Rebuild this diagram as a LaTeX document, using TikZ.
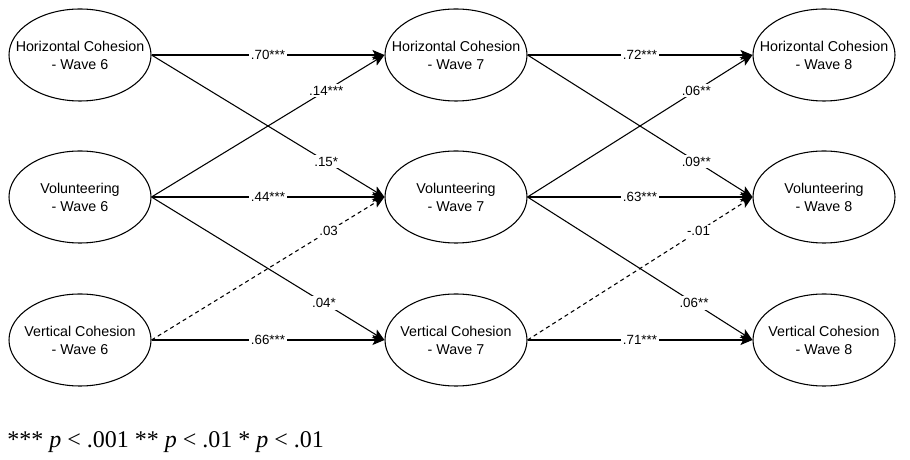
\documentclass[tikz,border=0pt]{standalone}
\usepackage{fontspec}
\setmainfont{Liberation Sans}
\newfontfamily\notefont{Liberation Serif}
\usetikzlibrary{shapes.geometric,arrows.meta}

\begin{document}
\begin{tikzpicture}[x=0.75pt, y=0.75pt,
    wave/.style={draw, ellipse, line width=0.8pt, minimum width=106.5pt, minimum height=69pt,
                 inner xsep=-12pt, inner ysep=0pt, align=center,
                 font=\fontsize{10.7}{13.5}\selectfont},
    path/.style={line width=0.8pt, -{Stealth[length=9pt, width=7.5pt, inset=2pt]}},
    ns/.style={path, dashed, dash pattern=on 3pt off 2.5pt},
    coef/.style={fill=white, inner sep=1.5pt, font=\fontsize{10}{12}\selectfont}]
    \useasboundingbox (0,0) rectangle (910,460);

    % wave 6
    \node[wave] (hc6) at (80,405) {Horizontal Cohesion\\- Wave 6};
    \node[wave] (vo6) at (80,263) {Volunteering\\- Wave 6};
    \node[wave] (vc6) at (80,120) {Vertical Cohesion\\- Wave 6};
    % wave 7
    \node[wave] (hc7) at (456,405) {Horizontal Cohesion\\- Wave 7};
    \node[wave] (vo7) at (456,263) {Volunteering\\- Wave 7};
    \node[wave] (vc7) at (456,120) {Vertical Cohesion\\- Wave 7};
    % wave 8
    \node[wave] (hc8) at (824,405) {Horizontal Cohesion\\- Wave 8};
    \node[wave] (vo8) at (824,263) {Volunteering\\- Wave 8};
    \node[wave] (vc8) at (824,120) {Vertical Cohesion\\- Wave 8};

    % wave 6 -> wave 7
    \draw[path] (hc6.east) -- node[coef] {.70***} (hc7.west);
    \draw[path] (vo6.east) -- node[coef, pos=0.75] {.14***} (hc7.west);
    \draw[path] (hc6.east) -- node[coef, pos=0.75] {.15*} (vo7.west);
    \draw[path] (vo6.east) -- node[coef] {.44***} (vo7.west);
    \draw[ns] (vc6.east) -- node[coef, pos=0.76] {.03} (vo7.west);
    \draw[path] (vo6.east) -- node[coef, pos=0.74] {.04*} (vc7.west);
    \draw[path] (vc6.east) -- node[coef] {.66***} (vc7.west);

    % wave 7 -> wave 8
    \draw[path] (hc7.east) -- node[coef] {.72***} (hc8.west);
    \draw[path] (vo7.east) -- node[coef, pos=0.75] {.06**} (hc8.west);
    \draw[path] (hc7.east) -- node[coef, pos=0.75] {.09**} (vo8.west);
    \draw[path] (vo7.east) -- node[coef] {.63***} (vo8.west);
    \draw[ns] (vc7.east) -- node[coef, pos=0.76] {-.01} (vo8.west);
    \draw[path] (vo7.east) -- node[coef, pos=0.74] {.06**} (vc8.west);
    \draw[path] (vc7.east) -- node[coef] {.71***} (vc8.west);

    % significance note
    \node[anchor=base west, inner sep=0pt, font=\notefont\fontsize{18}{20}\selectfont] (note) at (7,12)
        {*** \textit{p} < .001 ** \textit{p} < .01 * \textit{p} < .01};
\end{tikzpicture}
\end{document}
